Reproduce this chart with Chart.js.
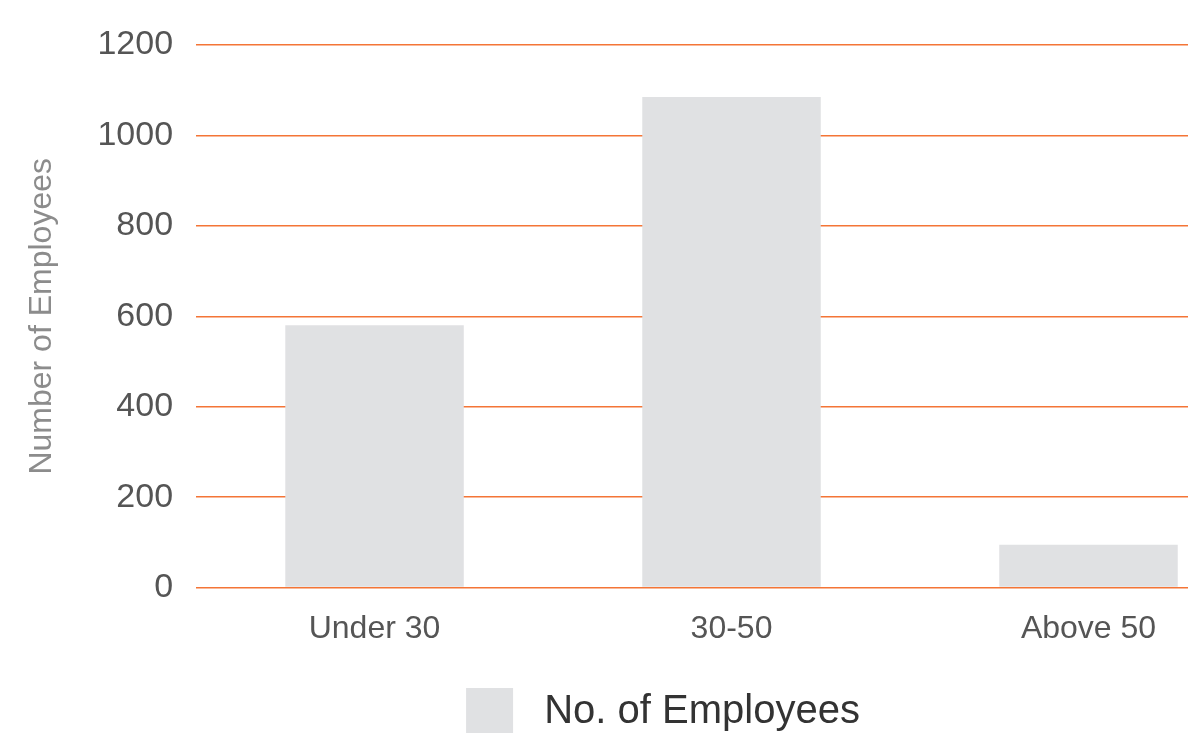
<!DOCTYPE html>
<html>
<head>
<meta charset="utf-8">
<script src="https://cdn.jsdelivr.net/npm/chart.js@4/dist/chart.umd.min.js"></script>
<style>
  body { margin: 0; background: #fff; }
  #wrap { width: 1188px; height: 733px; overflow: hidden; }
</style>
</head>
<body>
<div id="wrap">
  <canvas id="employeesChart" width="1267" height="745"></canvas>
</div>
<script>
// Chart data
const ageGroups = ['Under 30', '30-50', 'Above 50'];
const employeeCounts = [580, 1085, 95];
const yMin = 0;
const yMax = 1200;
const yStep = 200;
const seriesName = 'No. of Employees';
const axisTitle = 'Number of Employees';

// Colors
const colors = {
    bar: '#e0e1e3',
    grid: '#f47536',
    tick: '#555555',
    title: '#8c8c8c',
    legend: '#333333'
};

const fontFamily = '"Liberation Sans", Arial, Helvetica, sans-serif';

function initEmployeesChart() {
    const ctx = document.getElementById('employeesChart').getContext('2d');

    new Chart(ctx, {
        type: 'bar',
        data: {
            labels: ageGroups,
            datasets: [{
                label: seriesName,
                data: employeeCounts,
                backgroundColor: colors.bar,
                borderWidth: 0,
                barPercentage: 0.5,
                categoryPercentage: 1
            }]
        },
        options: {
            responsive: false,
            animation: false,
            devicePixelRatio: 1,
            layout: {
                padding: { left: 59, right: 0, top: 45, bottom: 0 }
            },
            plugins: {
                tooltip: { enabled: false },
                legend: {
                    position: 'bottom',
                    labels: {
                        boxWidth: 47,
                        boxHeight: 47,
                        padding: 18,
                        color: colors.legend,
                        font: { family: fontFamily, size: 40 },
                        // small gap between swatch and text
                        generateLabels: chart => Chart.defaults.plugins.legend.labels
                            .generateLabels(chart)
                            .map(item => ({ ...item, text: ' ' + item.text }))
                    }
                }
            },
            scales: {
                x: {
                    grid: { display: false, drawTicks: false },
                    border: { display: false },
                    ticks: {
                        color: colors.tick,
                        padding: 22,
                        font: { family: fontFamily, size: 32 }
                    }
                },
                y: {
                    min: yMin,
                    max: yMax,
                    grid: {
                        color: colors.grid,
                        lineWidth: 1.5,
                        drawTicks: false
                    },
                    border: { display: false },
                    ticks: {
                        stepSize: yStep,
                        color: colors.tick,
                        padding: 23,
                        font: { family: fontFamily, size: 34 },
                        callback: value => String(value)
                    },
                    title: {
                        display: true,
                        text: axisTitle,
                        color: colors.title,
                        padding: { top: -36, bottom: 13 },
                        font: { family: fontFamily, size: 32 }
                    }
                }
            }
        }
    });
}

initEmployeesChart();
</script>
</body>
</html>
